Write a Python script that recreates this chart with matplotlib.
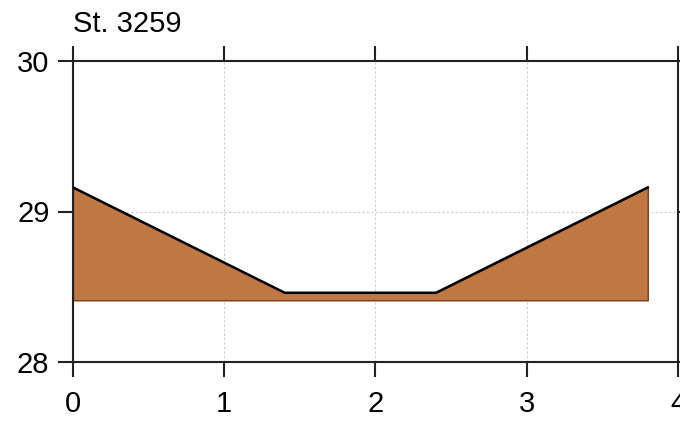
import matplotlib
matplotlib.use('Agg')
import matplotlib.pyplot as plt

plt.rcParams['font.family'] = ['Liberation Sans', 'DejaVu Sans']

# profile of the section (distance, depth)
dist = [0.0, 1.4, 2.4, 3.8]
top = [29.16, 28.46, 28.46, 29.16]
base = 28.41
title = 'St. 3259'
xticks = [0, 1, 2, 3, 4]
yticks = [28, 29, 30]

fig = plt.figure(figsize=(6.8, 4.22), dpi=100)
ax = fig.add_axes([73/680, 1-362/422, (678-73)/680, (362-61)/422])

ax.fill_between(dist, top, base, facecolor='#c07843', edgecolor='#7a3b1c', linewidth=1, zorder=2)
ax.plot(dist, top, color='black', linewidth=1.8, zorder=3)

ax.set_xlim(0, 4)
ax.set_ylim(28, 30)
ax.set_xticks(xticks)
ax.set_yticks(yticks)
ax.grid(True, color='#cccccc', linestyle=(0, (2, 2)), linewidth=0.8, zorder=0)

for s in ax.spines.values():
    s.set_linewidth(1.5)
    s.set_color('#222222')
ax.tick_params(direction='out', length=11, width=1.5, color='#222222',
               labelsize=21, top=True, right=True)
ax.tick_params(axis='x', pad=9)
ax.tick_params(axis='y', pad=6)
ax.set_title(title, loc='left', fontsize=21, pad=21)

fig.savefig('out.png', dpi=100)
